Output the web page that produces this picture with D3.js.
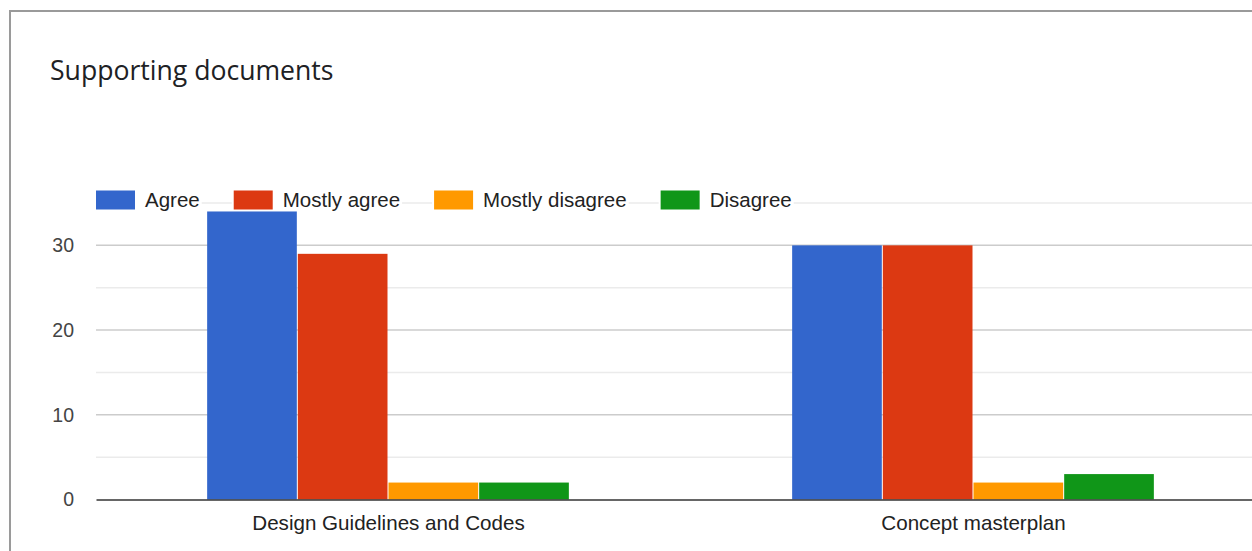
<!DOCTYPE html>
<html>
<head>
<meta charset="utf-8">
<script src="https://cdn.jsdelivr.net/npm/d3@7"></script>
<style>
  html, body { margin: 0; padding: 0; background: #fff; }
  svg { display: block; }
</style>
</head>
<body>
<svg id="chart" width="1252" height="551"></svg>
<script>
// Survey responses per supporting document
const categories = ["Design Guidelines and Codes", "Concept masterplan"];
const seriesNames = ["Agree", "Mostly agree", "Mostly disagree", "Disagree"];
const agree = [34, 30];
const mostlyAgree = [29, 30];
const mostlyDisagree = [2, 2];
const disagree = [2, 3];
const seriesColors = ["#3366cc", "#dc3912", "#ff9900", "#109618"];
const majorTicks = [0, 10, 20, 30];
const minorTicks = [5, 15, 25, 35];

const seriesValues = [agree, mostlyAgree, mostlyDisagree, disagree];
const rows = categories.map((c, i) => ({
  category: c,
  values: seriesNames.map((s, j) => ({ series: s, value: seriesValues[j][i], color: seriesColors[j] }))
}));

const svg = d3.select("#chart");
const W = 1252, H = 551;
const font = "'Liberation Sans', Arial, sans-serif";

// card outline
svg.append("rect")
  .attr("x", 10).attr("y", 11)
  .attr("width", W + 20).attr("height", H + 20)
  .attr("fill", "#fff").attr("stroke", "#9a9a9a").attr("stroke-width", 2);

// title
svg.append("text")
  .attr("x", 50).attr("y", 80)
  .attr("font-family", "'Open Sans', Roboto, sans-serif")
  .attr("font-size", 26.6)
  .attr("fill", "#202124")
  .text("Supporting documents");

const plot = { left: 96, right: 1266, top: 203, bottom: 499.5 };

const x0 = d3.scaleBand()
  .domain(categories)
  .range([plot.left, plot.right])
  .paddingInner(0.38)
  .paddingOuter(0.19);

const x1 = d3.scaleBand()
  .domain(seriesNames)
  .range([0, x0.bandwidth()]);

const y = d3.scaleLinear().domain([0, 35]).range([plot.bottom, plot.top]);

// minor gridlines
svg.append("g").selectAll("line").data(minorTicks).join("line")
  .attr("x1", plot.left).attr("x2", plot.right)
  .attr("y1", d => y(d)).attr("y2", d => y(d))
  .attr("stroke", "#ebebeb").attr("stroke-width", 1.5);

// major gridlines
svg.append("g").selectAll("line").data(majorTicks.filter(d => d !== 0)).join("line")
  .attr("x1", plot.left).attr("x2", plot.right)
  .attr("y1", d => y(d)).attr("y2", d => y(d))
  .attr("stroke", "#cccccc").attr("stroke-width", 1.5);

// y axis labels
const yAxis = svg.append("g")
  .attr("transform", `translate(${plot.left},0)`)
  .call(d3.axisLeft(y).tickValues(majorTicks).tickSize(0).tickPadding(22));
yAxis.select(".domain").remove();
yAxis.selectAll("text")
  .attr("font-family", font).attr("font-size", 19.5).attr("fill", "#444");

// legend (white backing hides the top gridline behind each entry)
const legend = svg.append("g");
let lx = 96;
const legendY = 200;
seriesNames.forEach((name, i) => {
  const item = legend.append("g");
  const bg = item.append("rect").attr("fill", "#fff");
  item.append("rect")
    .attr("x", lx).attr("y", legendY - 9.5)
    .attr("width", 39).attr("height", 19)
    .attr("fill", seriesColors[i]);
  const t = item.append("text")
    .attr("x", lx + 49).attr("y", legendY + 7)
    .attr("font-family", font).attr("font-size", 20.5).attr("fill", "#222")
    .text(name);
  const w = t.node().getComputedTextLength();
  bg.attr("x", lx - 2).attr("y", legendY - 10)
    .attr("width", 49 + w + 4).attr("height", 19);
  lx += 49 + w + 34;
});

// bars
svg.append("g").selectAll("g").data(rows).join("g")
  .attr("transform", d => `translate(${x0(d.category)},0)`)
  .selectAll("rect").data(d => d.values).join("rect")
    .attr("x", d => x1(d.series))
    .attr("width", x1.bandwidth() - 1)
    .attr("y", d => y(d.value))
    .attr("height", d => y(0) - y(d.value))
    .attr("fill", d => d.color);

// baseline and category labels
const xAxis = svg.append("g")
  .attr("transform", `translate(0,${plot.bottom})`)
  .call(d3.axisBottom(x0).tickSize(0).tickPadding(16));
xAxis.select(".domain").attr("stroke", "#333").attr("stroke-width", 1.5);
xAxis.selectAll("text")
  .attr("font-family", font).attr("font-size", 20.6).attr("fill", "#222");
</script>
</body>
</html>
